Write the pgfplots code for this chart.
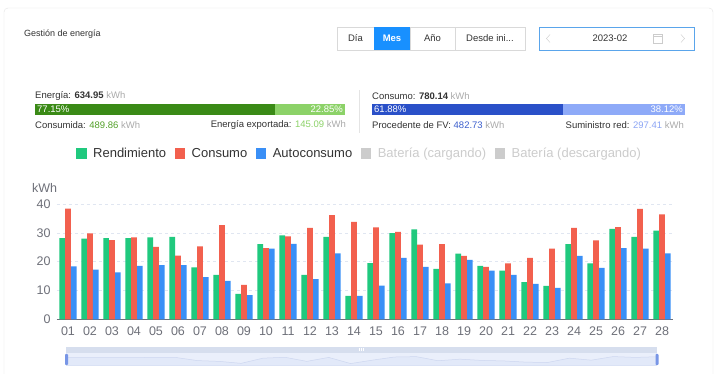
\documentclass[border=0pt]{standalone}
\usepackage{pgfplots}
\pgfplotsset{compat=1.18}
\usepackage{pgfplotstable}
\usepackage{fontspec}
\setmainfont{Liberation Sans}
\newcommand{\fs}[1]{\fontsize{#1}{#1}\selectfont}
\definecolor{cgreen}{RGB}{32,201,126}
\definecolor{cred}{RGB}{242,96,78}
\definecolor{cblue}{RGB}{58,143,246}
\definecolor{pdgreen}{RGB}{58,138,22}
\definecolor{plgreen}{RGB}{140,210,104}
\definecolor{pdblue}{RGB}{42,80,200}
\definecolor{plblue}{RGB}{142,170,248}
\definecolor{mesblue}{RGB}{24,144,255}
\definecolor{tdark}{RGB}{51,51,51}
\definecolor{tgray}{RGB}{170,170,170}
\definecolor{lgray}{RGB}{204,204,204}
\definecolor{axgray}{RGB}{110,112,121}
\definecolor{gridc}{RGB}{224,230,241}
\definecolor{cardb}{RGB}{228,228,228}
\definecolor{btnb}{RGB}{217,217,217}
\definecolor{txgreen}{RGB}{82,160,40}
\definecolor{txlgreen}{RGB}{140,210,104}
\definecolor{txblue}{RGB}{60,95,205}
\definecolor{txlblue}{RGB}{140,165,245}
\definecolor{datebord}{RGB}{90,165,235}
\definecolor{sbar}{RGB}{214,222,238}
\definecolor{sbody}{RGB}{234,239,251}
\definecolor{shandle}{RGB}{120,150,230}

\pgfplotstableread{
day rend cons auto
1 28.2 38.4 18.4
2 28.0 29.8 17.2
3 28.2 27.5 16.3
4 28.2 28.4 18.5
5 28.4 25.1 18.8
6 28.6 22.1 18.8
7 18.0 25.3 14.6
8 15.4 32.7 13.3
9 8.8 11.9 8.4
10 26.1 24.7 24.5
11 29.1 28.8 26.2
12 15.4 31.7 13.9
13 28.6 36.1 22.9
14 8.1 33.8 8.1
15 19.5 31.9 11.7
16 29.9 30.3 21.3
17 31.2 25.9 18.2
18 17.5 26.1 12.5
19 22.8 22.0 20.6
20 18.5 18.2 16.9
21 16.9 19.4 15.4
22 12.9 21.3 12.3
23 11.6 24.5 10.9
24 26.1 31.7 22.0
25 19.4 27.4 17.8
26 31.4 32.0 24.7
27 28.6 38.3 24.5
28 30.8 36.4 22.9
}\datatable

\pgfplotsset{sqlegend/.style={legend image code/.code={\fill[##1] (0pt,-5.5pt) rectangle (10.5pt,5.5pt);}}}

\begin{document}
\begin{tikzpicture}[x=1pt,y=1pt]
\useasboundingbox (0,0) rectangle (721,374);
\fill[white] (0,0) rectangle (721,374);
% card
\draw[cardb, rounded corners=4pt] (4,-10) rectangle (713,366);
% title
\node[anchor=west, font=\fs{9}, text=tdark, inner sep=0pt] at (24,340) {Gestión de energía};
% buttons
\draw[btnb] (337,324) rectangle (525,347);
\fill[mesblue] (374,324) rectangle (410,347);
\draw[btnb] (410,324) -- (410,347);
\draw[btnb] (455,324) -- (455,347);
\node[font=\fs{9.5}, text=tdark] at (355.5,335.5) {Día};
\node[font=\fs{9.5}\bfseries, text=white] at (392,335.5) {Mes};
\node[font=\fs{9.5}, text=tdark] at (432.5,335.5) {Año};
\node[font=\fs{9.5}, text=tdark] at (490,335.5) {Desde ini...};
% date picker
\draw[datebord, line width=0.9pt] (539.5,323.5) rectangle (694.5,346.5);
\draw[lgray] (550,339.5) -- (546.5,335.5) -- (550,331.5);
\draw[lgray] (681,339.5) -- (684.5,335.5) -- (681,331.5);
\node[font=\fs{9.5}, text=tdark] at (610,335.5) {2023-02};
\draw[lgray] (653,331) rectangle (662,340);
\draw[lgray] (653,337.5) -- (662,337.5);
% progress left
\node[anchor=west, inner sep=0pt, font=\fs{9.5}, text=tdark] at (35,278) {Energía: \textbf{634.95} \textcolor{tgray}{kWh}};
\fill[pdgreen] (35,259) rectangle (275,270);
\fill[plgreen] (275,259) rectangle (345,270);
\node[anchor=west, inner sep=0pt, font=\fs{9.5}, text=white] at (37,264.5) {77.15\%};
\node[anchor=east, inner sep=0pt, font=\fs{9.5}, text=white] at (343,264.5) {22.85\%};
\node[anchor=west, inner sep=0pt, font=\fs{9.5}, text=tdark] at (35,249) {Consumida: \textcolor{txgreen}{489.86} \textcolor{tgray}{kWh}};
\node[anchor=east, inner sep=0pt, font=\fs{9.5}, text=tdark] at (346,249) {Energía exportada: \textcolor{txlgreen}{145.09} \textcolor{tgray}{kWh}};
\draw[cardb] (359,241) -- (359,284);
% progress right
\node[anchor=west, inner sep=0pt, font=\fs{9.5}, text=tdark] at (372,278) {Consumo: \textbf{780.14} \textcolor{tgray}{kWh}};
\fill[pdblue] (372,259) rectangle (563,270);
\fill[plblue] (563,259) rectangle (685,270);
\node[anchor=west, inner sep=0pt, font=\fs{9.5}, text=white] at (374,264.5) {61.88\%};
\node[anchor=east, inner sep=0pt, font=\fs{9.5}, text=white] at (683,264.5) {38.12\%};
\node[anchor=west, inner sep=0pt, font=\fs{9.5}, text=tdark] at (372,249) {Procedente de FV: \textcolor{txblue}{482.73} \textcolor{tgray}{kWh}};
\node[anchor=east, inner sep=0pt, font=\fs{9.5}, text=tdark] at (684,249) {Suministro red: \textcolor{txlblue}{297.41} \textcolor{tgray}{kWh}};
% kWh label
\node[font=\fs{12.5}, text=axgray, inner sep=0pt] at (44.5,186) {kWh};
% main chart
\begin{axis}[
  at={(57pt,54.7pt)}, anchor=south west,
  scale only axis, width=616pt, height=115.3pt,
  xmin=0.5, xmax=28.5, ymin=0, ymax=40,
  ybar, bar width=5.6pt,
  axis x line*=bottom, axis y line*=left,
  y axis line style={draw=none},
  x axis line style={axgray},
  major tick length=0pt,
  xtick={1,...,28},
  xticklabels={01,02,03,04,05,06,07,08,09,10,11,12,13,14,15,16,17,18,19,20,21,22,23,24,25,26,27,28},
  ytick={0,10,20,30,40},
  ymajorgrids, grid style={gridc, dashed},
  tick label style={font=\fs{12.5}, text=axgray},
  /pgf/number format/assume math mode=true,
  yticklabel style={xshift=-3pt},
  xticklabel style={yshift=-4pt},
  legend style={at={(0.0308,1.434)}, anchor=west, draw=none, fill=none,
    inner sep=0pt, font=\fs{13}, text=tdark, legend columns=-1,
    /tikz/every odd column/.append style={column sep=3.5pt},
    /tikz/every even column/.append style={column sep=5.5pt},
    nodes={inner xsep=3pt, inner ysep=0pt}},
  legend cell align=left,
]
\addplot[fill=cgreen, draw=none, bar shift=-5.8pt, sqlegend] table[x=day, y=rend] {\datatable};
\addlegendentry{Rendimiento}
\addplot[fill=cred, draw=none, bar shift=0pt, sqlegend] table[x=day, y=cons] {\datatable};
\addlegendentry{Consumo}
\addplot[fill=cblue, draw=none, bar shift=5.8pt, sqlegend] table[x=day, y=auto] {\datatable};
\addlegendentry{Autoconsumo}
\addlegendimage{fill=lgray, draw=none, sqlegend}
\addlegendentry{\textcolor{lgray}{Batería (cargando)}}
\addlegendimage{fill=lgray, draw=none, sqlegend}
\addlegendentry{\textcolor{lgray}{Batería (descargando)}}
\end{axis}
% slider
\fill[sbar] (66,21) rectangle (657,27);
\fill[sbody] (66,8) rectangle (657,21);
\begin{axis}[
  at={(66pt,8pt)}, anchor=south west,
  scale only axis, width=591pt, height=12pt,
  xmin=1, xmax=28, ymin=0, ymax=40,
  axis lines=none, ticks=none,
]
\addplot[color={rgb,255:red,205;green,215;blue,240}, line width=0.5pt, fill={rgb,255:red,222;green,230;blue,248}, fill opacity=0.6] table[x=day, y=rend] {\datatable} \closedcycle;
\end{axis}
\draw[white, line width=0.4pt] (359.5,22.5) -- (359.5,25.5) (361.5,22.5) -- (361.5,25.5) (363.5,22.5) -- (363.5,25.5);
\fill[shandle, rounded corners=0.8pt] (65,9) rectangle (68,20);
\fill[shandle, rounded corners=0.8pt] (655.5,9) rectangle (658.5,20);
\end{tikzpicture}
\end{document}
